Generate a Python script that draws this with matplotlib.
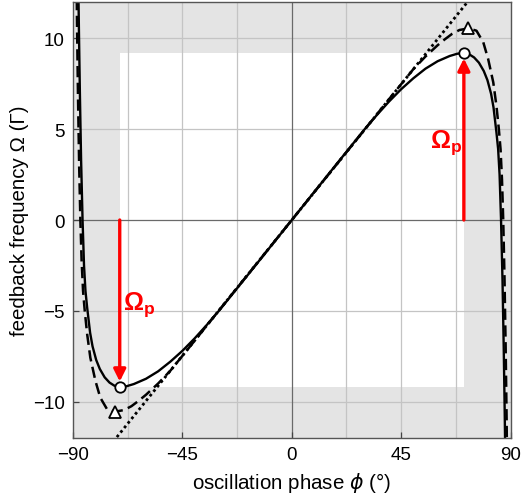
import numpy as np
import matplotlib.pyplot as plt
from matplotlib.patches import Rectangle

plt.rcParams['font.family'] = ['Liberation Sans', 'DejaVu Sans']
plt.rcParams['mathtext.fontset'] = 'custom'
plt.rcParams['mathtext.rm'] = 'Liberation Sans'
plt.rcParams['mathtext.it'] = 'DejaVu Sans:italic'
plt.rcParams['mathtext.bf'] = 'Liberation Sans:bold'

# solid curve: feedback frequency vs phase
phi_solid = [-88.0, -87.6, -87.2, -86.7, -86.1, -85.5, -84.9, -84.2, -83.0, -82.0,
             -80.5, -79.0, -77.0, -75.0, -73.0, -70.8, -68.0, -65.0, -60.0, -55.0,
             -50.0, -45.0, -40.0, -35.0, -30.0, -20.0, -10.0, 0.0, 10.0, 20.0,
             30.0, 35.0, 40.0, 45.0, 50.0, 55.0, 60.0, 65.0, 68.0, 70.8,
             73.0, 75.0, 77.0, 79.0, 80.5, 82.0, 83.0, 84.2, 84.9, 85.5,
             86.1, 86.7, 87.2, 87.6, 88.0]
omega_solid = [14.5, 10.5, 7.0, 3.3, 0.0, -2.5, -3.91, -4.83, -6.2, -6.95,
               -7.7, -8.2, -8.66, -8.95, -9.12, -9.2, -9.15, -9.03, -8.74, -8.33,
               -7.8, -7.2, -6.52, -5.78, -5.0, -3.34, -1.67, 0.0, 1.67, 3.34,
               5.0, 5.78, 6.52, 7.2, 7.8, 8.33, 8.74, 9.03, 9.15, 9.2,
               9.12, 8.95, 8.66, 8.2, 7.7, 6.95, 6.2, 4.83, 3.91, 2.5,
               0.0, -3.3, -7.0, -10.5, -14.5]

# dashed curve
phi_dash = [-88.7, -88.4, -88.0, -87.5, -87.0, -86.5, -85.9, -85.2, -84.2, -82.9,
            -80.8, -78.8, -76.0, -72.7, -69.0, -66.0, -63.0, -60.0, -55.0, -50.0,
            -40.0, -30.0, -15.0, 0.0, 15.0, 30.0, 40.0, 50.0, 55.0, 60.0,
            63.0, 66.0, 69.0, 72.7, 76.0, 78.8, 80.8, 82.9, 84.2, 85.2,
            85.9, 86.5, 87.0, 87.5, 88.0, 88.4, 88.7]
omega_dash = [15.0, 11.0, 7.0, 3.0, 0.0, -2.2, -3.9, -5.0, -6.29, -7.58,
              -8.86, -9.78, -10.42, -10.55, -10.46, -10.25, -9.95, -9.62, -9.0, -8.3,
              -6.65, -4.98, -2.49, 0.0, 2.49, 4.98, 6.65, 8.3, 9.0, 9.62,
              9.95, 10.25, 10.46, 10.55, 10.42, 9.78, 8.86, 7.58, 6.29, 5.0,
              3.9, 2.2, 0.0, -3.0, -7.0, -11.0, -15.0]

# dotted linear approximation
phi_lin = [-75.0, 75.0]
omega_lin = [-12.45, 12.45]

# extrema
phi_p, omega_p = 70.8, 9.2
phi_max, omega_max = 72.7, 10.55

fig = plt.figure(figsize=(5.22, 5.02), dpi=100)
ax = fig.add_axes([0.14, 0.1255, 0.838, 0.8685])
ax.set_facecolor('#e4e4e4')
ax.add_patch(Rectangle((-phi_p, -omega_p), 2 * phi_p, 2 * omega_p,
                       facecolor='white', edgecolor='none', zorder=0.2))

for x in [-67.5, -45, -22.5, 22.5, 45, 67.5]:
    ax.axvline(x, color='#c4c4c4', lw=0.9, zorder=1)
for y in [-10, -5, 5, 10]:
    ax.axhline(y, color='#c4c4c4', lw=0.9, zorder=1)
ax.axvline(0, color='#6a6a6a', lw=0.9, zorder=1)
ax.axhline(0, color='#6a6a6a', lw=0.9, zorder=1)

ax.plot(phi_lin, omega_lin, color='black', lw=2.0, ls=(0, (1, 1.1)), zorder=3)
ax.plot(phi_dash, omega_dash, color='black', lw=1.8, ls=(0, (4.5, 2.2)), zorder=3)
ax.plot(phi_solid, omega_solid, color='black', lw=1.7, zorder=4)

for s in [1, -1]:
    ax.annotate('', xy=(s * phi_p, s * omega_p), xytext=(s * phi_p, 0),
                arrowprops=dict(arrowstyle='-|>', color='red', lw=2.4,
                                shrinkA=0, shrinkB=4, mutation_scale=18), zorder=5)
ax.plot([phi_p, -phi_p], [omega_p, -omega_p], 'o', ms=7.5, mfc='white',
        mec='black', mew=1.3, zorder=6)
ax.plot([phi_max, -phi_max], [omega_max, -omega_max], '^', ms=8, mfc='white',
        mec='black', mew=1.3, zorder=6)

ax.text(63.5, 4.3, r'$\mathbf{\Omega_p}$', color='red', fontsize=18,
        ha='center', va='center', zorder=6)
ax.text(-62.8, -4.6, r'$\mathbf{\Omega_p}$', color='red', fontsize=18,
        ha='center', va='center', zorder=6)

ax.set_xlim(-90, 90)
ax.set_ylim(-12, 12)
ax.set_xticks([-90, -45, 0, 45, 90])
ax.set_yticks([-10, -5, 0, 5, 10])
ax.tick_params(direction='in', length=4, width=0.9, color='#444444',
               labelsize=13.5, pad=6)
for sp in ax.spines.values():
    sp.set_color('#555555')
    sp.set_linewidth(1.0)
    sp.set_zorder(7)

ax.set_xlabel(r'oscillation phase $\phi$ (°)', fontsize=14.8, labelpad=5)
ax.set_ylabel('feedback frequency Ω (Γ)', fontsize=14.8, labelpad=3)

fig.savefig('out.png', dpi=100)
